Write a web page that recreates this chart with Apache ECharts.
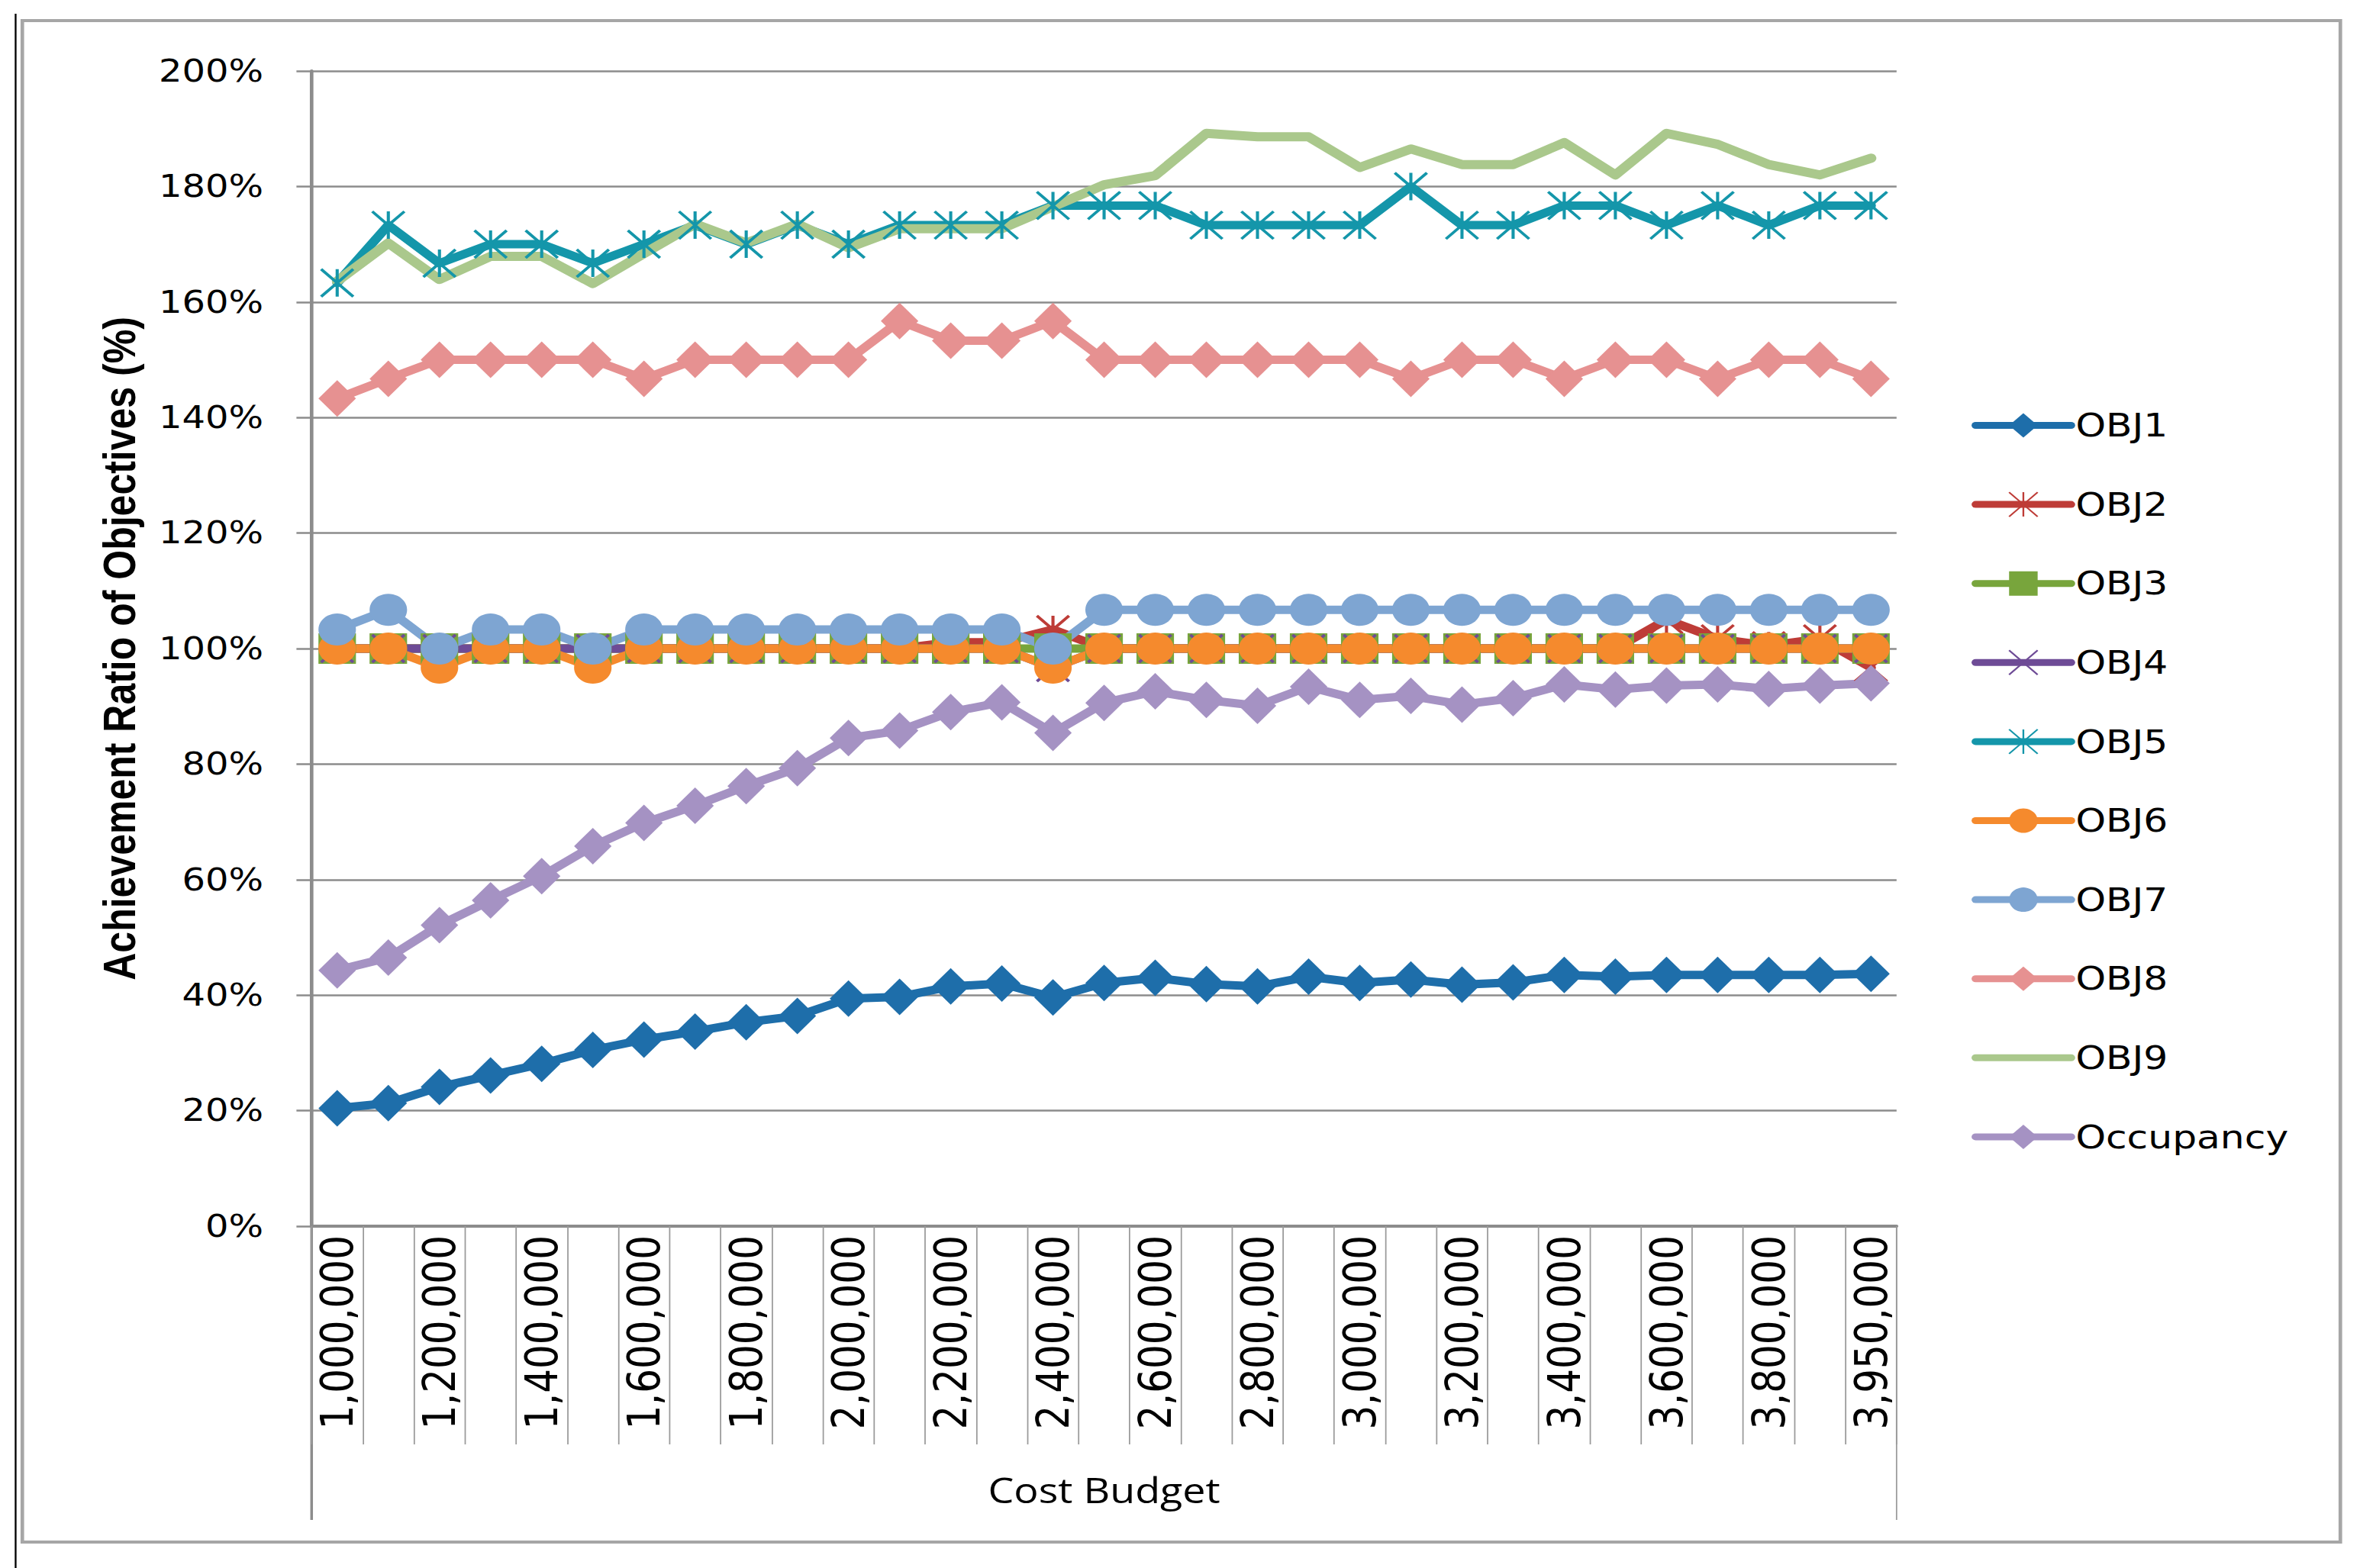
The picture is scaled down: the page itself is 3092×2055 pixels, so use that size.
<!DOCTYPE html>
<html><head><meta charset="utf-8">
<script src="https://cdn.jsdelivr.net/npm/echarts@6/dist/echarts.min.js"></script>
<style>
html,body{margin:0;padding:0;background:#fff;overflow:hidden;width:3092px;height:2055px;}
#wrap{width:3092px;height:2055px;overflow:hidden;position:relative;background:#fff;}
#chart{width:2643px;height:2055px;transform:scaleX(1.16988);transform-origin:0 0;}
</style></head>
<body><div id="wrap"><div id="chart"></div></div>
<script>
const categories = ['1,000,000','1,100,000','1,200,000','1,300,000','1,400,000','1,500,000','1,600,000','1,700,000','1,800,000','1,900,000',
  '2,000,000','2,100,000','2,200,000','2,300,000','2,400,000','2,500,000','2,600,000','2,700,000','2,800,000','2,900,000',
  '3,000,000','3,100,000','3,200,000','3,300,000','3,400,000','3,500,000','3,600,000','3,700,000','3,800,000','3,900,000','3,950,000'];
const yTicks = [0,20,40,60,80,100,120,140,160,180,200];

const obj1 = [20.4,21.3,24.1,26.1,28.1,30.5,32.3,33.7,35.3,36.4,39.4,39.7,41.5,42.0,39.6,42.1,43.0,41.9,41.5,43.2,42.1,42.7,41.8,42.2,43.5,43.2,43.5,43.5,43.5,43.5,43.7];
const obj2 = [100,100,100,100,100,100,100,100,100,100,100,100,101.1,101.1,103.3,100,100,100,100,100,100,100,100,100,100,100,105,101.7,100.5,101.7,96.7];
const obj3 = [100,100,100,100,100,100,100,100,100,100,100,100,100,100,100,100,100,100,100,100,100,100,100,100,100,100,100,100,100,100,100];
const obj4 = [100,100,100,100,100,100,100,100,100,100,100,100,100,100,96.7,100,100,100,100,100,100,100,100,100,100,100,100,100,100,100,100];
const obj5 = [163.3,173.3,166.7,170,170,166.7,170,173.3,170,173.3,170,173.3,173.3,173.3,176.7,176.7,176.7,173.3,173.3,173.3,173.3,180,173.3,173.3,176.7,176.7,173.3,176.7,173.3,176.7,176.7];
const obj6 = [100,100,96.7,100,100,96.7,100,100,100,100,100,100,100,100,96.7,100,100,100,100,100,100,100,100,100,100,100,100,100,100,100,100];
const obj7 = [103.3,106.7,100,103.3,103.3,100,103.3,103.3,103.3,103.3,103.3,103.3,103.3,103.3,100,106.7,106.7,106.7,106.7,106.7,106.7,106.7,106.7,106.7,106.7,106.7,106.7,106.7,106.7,106.7,106.7];
const obj8 = [143.3,146.7,150,150,150,150,146.7,150,150,150,150,156.7,153.3,153.3,156.7,150,150,150,150,150,150,146.7,150,150,146.7,150,150,146.7,150,150,146.7];
const obj9 = [163.6,170.2,163.9,167.9,167.9,163.2,168.4,173.5,170.2,173.5,169.4,172.7,172.7,172.7,176.5,180.3,181.9,189.2,188.6,188.6,183.3,186.5,183.8,183.8,187.6,182.0,189.2,187.3,183.8,182.0,184.9];
const occupancy = [44.3,46.5,52.1,56.4,60.6,65.8,69.8,72.8,76.2,79.3,84.5,85.8,89.0,90.7,85.4,90.6,92.6,91.1,90.1,93.4,91.1,91.8,90.3,91.4,93.8,92.9,93.6,93.8,93.0,93.6,94.0];

const seriesNames = ['OBJ1','OBJ2','OBJ3','OBJ4','OBJ5','OBJ6','OBJ7','OBJ8','OBJ9','Occupancy'];
const seriesColors = ['#1E6EAA','#BE3C37','#78A53C','#6E4B96','#1496AA','#F58A2D','#7EA5D2','#E69191','#AAC88C','#A592C3'];
const seriesData = [obj1,obj2,obj3,obj4,obj5,obj6,obj7,obj8,obj9,occupancy];

const XSYM = 'path://M0,0L10,10M10,0L0,10';
const STAR = 'path://M0,0L10,10M10,0L0,10M5,0L5,10';
const symbols = ['diamond', STAR, 'rect', XSYM, STAR, 'circle', 'circle', 'diamond', 'none', 'diamond'];
const symSizes = [[42,48],[36,36],[42,40],[36,36],[36,36],[42,42],[42,42],[42,48],0,[42,48]];

const GRID = {left:349, top:93, width:1775, height:1514};

const series = seriesNames.map((name, i) => {
  const c = seriesColors[i];
  const stroked = (symbols[i] === STAR || symbols[i] === XSYM);
  return {
    name: name,
    type: 'line',
    data: seriesData[i],
    symbol: symbols[i],
    symbolSize: symSizes[i],
    showSymbol: symbols[i] !== 'none',
    showAllSymbol: true,
    lineStyle: {color: c, width: i === 8 ? 12 : 11, cap: 'round', join: 'round'},
    itemStyle: stroked ? {color: c, borderColor: c, borderWidth: 3.5} : {color: c, borderWidth: 0},
    emphasis: {disabled: true},
    animation: false
  };
});

const legendData = seriesNames.map((name, i) => (
  symbols[i] === 'none'
    ? {name: name, itemStyle: {opacity: 0, color: 'transparent', borderWidth: 0}}
    : {name: name}
));

const chart = echarts.init(document.getElementById('chart'), null, {renderer: 'svg'});
chart.setOption({
  backgroundColor: '#ffffff',
  animation: false,
  grid: GRID,
  legend: {
    orient: 'vertical',
    left: 2208,
    top: 536,
    itemWidth: 107,
    itemHeight: 40,
    itemGap: 60.6,
    padding: 0,
    selectedMode: false,
    lineStyle: {width: 9},
    textStyle: {fontFamily: 'DejaVu Sans', fontSize: 43, color: '#000', lineHeight: 40},
    data: legendData
  },
  xAxis: {
    type: 'category',
    data: categories,
    boundaryGap: true,
    name: 'Cost Budget',
    nameLocation: 'middle',
    nameGap: 323,
    nameTextStyle: {fontFamily: 'Open Sans', fontSize: 46, color: '#000'},
    axisLine: {show: true, lineStyle: {color: '#8c8c8c', width: 4}},
    axisTick: {show: true, interval: 0, length: 286, lineStyle: {color: '#9a9a9a', width: 1.5}},
    axisLabel: {interval: 1, rotate: 90, margin: 12, fontFamily: 'DejaVu Sans', fontSize: 50, color: '#000'},
    splitLine: {show: false}
  },
  yAxis: {
    type: 'value',
    min: 0, max: 200, interval: 20,
    name: 'Achievement Ratio of Objectives (%)',
    nameLocation: 'middle',
    nameRotate: 90,
    nameGap: 190,
    nameTextStyle: {fontFamily: 'Liberation Sans', fontWeight: 'bold', fontSize: 50, color: '#000'},
    axisLine: {show: true, lineStyle: {color: '#8c8c8c', width: 4}},
    axisTick: {show: true, length: 17, lineStyle: {color: '#8c8c8c', width: 2.5}},
    axisLabel: {margin: 54, fontFamily: 'DejaVu Sans', fontSize: 41, color: '#000', formatter: '{value}%'},
    splitLine: {show: true, lineStyle: {color: '#8c8c8c', width: 2.5}}
  },
  graphic: [
    {type: 'rect', shape: {x: 25, y: 27, width: 2596, height: 1994}, style: {fill: 'none', stroke: '#a6a6a6', lineWidth: 4}, silent: true},
    {type: 'line', shape: {x1: 17.5, y1: 18, x2: 17.5, y2: 2055}, style: {stroke: '#000', lineWidth: 2}, silent: true},
    {type: 'line', shape: {x1: GRID.left, y1: GRID.top + GRID.height, x2: GRID.left, y2: 1992}, style: {stroke: '#8c8c8c', lineWidth: 3}, silent: true},
    {type: 'line', shape: {x1: GRID.left + GRID.width, y1: GRID.top + GRID.height, x2: GRID.left + GRID.width, y2: 1992}, style: {stroke: '#9a9a9a', lineWidth: 1.5}, silent: true}
  ],
  series: series
});
</script>
</body></html>
